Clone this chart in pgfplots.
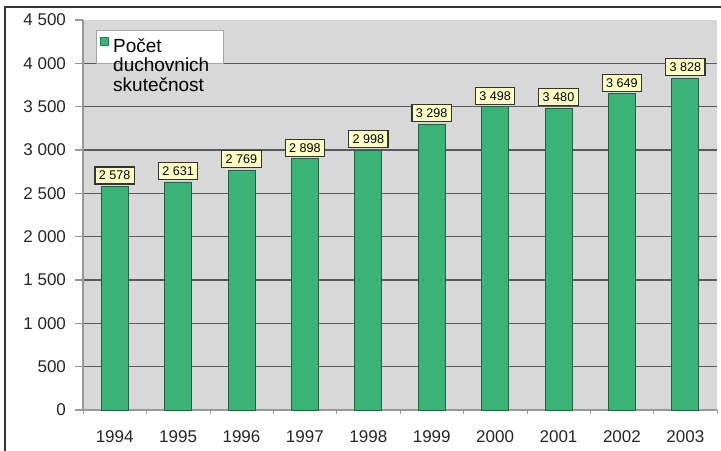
\documentclass[border=0pt]{standalone}
\usepackage{pgfplots}
\pgfplotsset{compat=1.18}
\usepackage{fontspec}
\setmainfont{Liberation Sans}
\definecolor{barfill}{RGB}{58,180,118}
\definecolor{baredge}{RGB}{40,95,65}
\definecolor{plotbg}{RGB}{216,216,216}
\definecolor{lblfill}{RGB}{255,255,196}
\begin{document}
\begin{tikzpicture}
\path[use as bounding box] (-41.5pt,-20pt) rectangle (319pt,205pt);
\draw[black!80, line width=1pt] (-39pt,-22pt) -- (-39pt,201.5pt) -- (321pt,201.5pt);
\begin{axis}[
  width=317pt, height=195pt, scale only axis,
  xmin=-0.5, xmax=9.5, ymin=0, ymax=4500,
  axis background/.style={fill=plotbg},
  axis lines*=left,
  axis line style={draw=gray!80, line width=0.6pt},
  xtick={0,...,9},
  xticklabels={1994,1995,1996,1997,1998,1999,2000,2001,2002,2003},
  major x tick style={draw=none},
  minor xtick={-0.5,0.5,...,9.5},
  minor x tick style={draw=gray!80},
  ytick={0,500,...,4000},
  extra y ticks={4500},
  extra y tick style={grid=none},
  tick align=outside,
  major tick length=4pt, minor tick length=2pt,
  y tick style={draw=gray!80, line width=0.6pt},
  ymajorgrids, grid style={draw=black!65, line width=0.6pt},
  tick label style={font=\fontsize{8.5}{10}\selectfont, text=black!85},
  /pgf/number format/assume math mode=true,
  /pgf/number format/1000 sep={\ },
  yticklabel style={xshift=-1pt},
  xticklabel style={yshift=-3pt},
  clip=false,
  legend style={at={(rel axis cs:0.0205,0.974)}, anchor=north west,
    draw=gray!70, fill=white, font=\fontsize{9.5}{9.2}\selectfont,
    inner sep=2pt, legend cell align=left},
  legend image code/.code={\draw[fill=barfill,draw=barfill!70!black] (2pt,0.6pt) rectangle (6pt,4.6pt);},
  nodes near coords,
  every node near coord/.append style={font=\fontsize{6.3}{6.8}\selectfont,
    fill=lblfill, draw=black!80, line width=0.6pt, inner sep=2pt, anchor=south, yshift=1pt},
]
\addplot[ybar, bar width=13.5pt, fill=barfill, draw=baredge, line width=0.4pt]
  coordinates {(0,2578) (1,2631) (2,2769) (3,2898) (4,2998) (5,3298) (6,3498) (7,3480) (8,3649) (9,3828)};
\addlegendentry{\begin{tabular}[t]{@{}l@{\hspace{3pt}}}Počet\\duchovnich\\skutečnost\end{tabular}}
\end{axis}
\end{tikzpicture}
\end{document}
